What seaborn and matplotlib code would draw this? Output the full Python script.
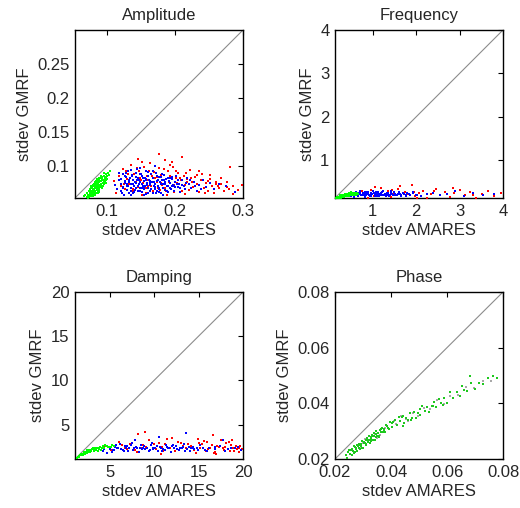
import matplotlib
matplotlib.use("Agg")
import matplotlib.pyplot as plt
import seaborn as sns
import pandas as pd

# ---------------- data ----------------
titles = ["Amplitude", "Frequency", "Damping", "Phase"]
x_label = "stdev AMARES"
y_label = "stdev GMRF"

amp_lim = (0.053, 0.3)
amp_xticks = [0.1, 0.2, 0.3]
amp_xticklabels = ["0.1", "0.2", "0.3"]
amp_yticks = [0.1, 0.15, 0.2, 0.25]
amp_yticklabels = ["0.1", "0.15", "0.2", "0.25"]

amp_green_x = [0.066,0.068,0.070,0.071,0.072,0.073,0.074,0.075,0.075,0.076,0.077,0.078,0.078,0.079,0.080,0.080,0.081,0.081,0.082,0.082,0.083,0.083,0.084,0.084,0.085,0.085,0.086,0.086,0.087,0.087,0.088,0.088,0.089,0.089,0.090,0.090,0.091,0.091,0.092,0.093,0.093,0.094,0.095,0.095,0.096,0.097,0.098,0.099,0.100,0.101,0.103,0.105,0.079,0.083,0.087,0.091,0.085,0.081,0.077,0.089,
               0.070,0.073,0.076,0.078,0.080,0.082,0.084,0.086,0.088,0.090,0.092,0.094,0.096,0.098,0.100,0.074,0.079,0.083,0.087,0.091,0.095,0.099,0.072,0.081,0.089,0.093,0.097,0.086,0.084,0.076]
amp_green_y = [0.056,0.058,0.055,0.061,0.058,0.063,0.057,0.061,0.066,0.059,0.064,0.060,0.068,0.063,0.066,0.059,0.070,0.062,0.067,0.073,0.064,0.070,0.075,0.061,0.068,0.072,0.065,0.077,0.070,0.074,0.067,0.079,0.072,0.076,0.069,0.082,0.074,0.078,0.071,0.080,0.084,0.075,0.078,0.086,0.073,0.082,0.088,0.079,0.085,0.090,0.087,0.092,0.071,0.058,0.063,0.086,0.080,0.074,0.056,0.065,
               0.060,0.054,0.067,0.057,0.072,0.060,0.067,0.081,0.062,0.078,0.083,0.070,0.080,0.075,0.081,0.064,0.056,0.077,0.060,0.070,0.090,0.084,0.053,0.065,0.083,0.067,0.077,0.071,0.078,0.070]

amp_blue_x = [0.112,0.115,0.118,0.120,0.121,0.123,0.124,0.125,0.127,0.128,0.129,0.130,0.131,0.132,0.133,0.134,0.135,0.136,0.137,0.138,0.139,0.140,0.141,0.142,0.143,0.144,0.145,0.146,0.147,0.148,0.149,0.150,0.151,0.152,0.153,0.154,0.155,0.156,0.157,0.158,0.159,0.160,0.161,0.162,0.163,0.164,0.165,0.166,0.167,0.168,0.169,0.170,0.171,0.172,0.173,0.174,0.175,0.176,0.177,0.178,0.180,0.181,0.182,0.184,0.185,0.186,0.188,0.189,0.190,0.192,0.193,0.195,0.197,0.198,0.200,0.202,0.204,0.206,0.208,0.210,0.213,0.215,0.218,0.221,0.224,0.228,0.232,0.236,0.241,0.246,0.252,0.258,0.265,0.275,0.288,0.135,0.148,0.170,0.155,0.183,
              0.121,0.124,0.126,0.128,0.131,0.133,0.135,0.137,0.139,0.141,0.143,0.145,0.147,0.149,0.151,0.153,0.155,0.157,0.159,0.161,0.163,0.165,0.167,0.169,0.171,0.173,0.175,0.177,0.179,0.181,0.183,0.185,0.187,0.189,0.191,0.194,0.196,0.199,0.203,0.207,
              0.122,0.127,0.132,0.136,0.140,0.144,0.148,0.152,0.156,0.160,0.164,0.168,0.172,0.176,0.180,0.184,0.188,0.192,0.196,0.200,0.205,0.210,0.216,0.222,0.230,0.238,0.118,0.129,0.142,0.157]
amp_blue_y = [0.072,0.066,0.080,0.063,0.074,0.088,0.069,0.058,0.078,0.084,0.065,0.071,0.092,0.061,0.076,0.082,0.068,0.073,0.087,0.060,0.079,0.070,0.065,0.084,0.075,0.096,0.063,0.071,0.080,0.068,0.077,0.089,0.062,0.073,0.083,0.066,0.078,0.071,0.093,0.059,0.075,0.085,0.068,0.079,0.064,0.072,0.088,0.076,0.061,0.082,0.070,0.074,0.066,0.090,0.078,0.063,0.071,0.084,0.068,0.076,0.060,0.080,0.073,0.087,0.065,0.077,0.070,0.083,0.062,0.075,0.068,0.081,0.072,0.064,0.077,0.086,0.069,0.074,0.062,0.079,0.071,0.066,0.083,0.073,0.068,0.077,0.064,0.072,0.080,0.069,0.075,0.066,0.073,0.070,0.062,0.057,0.097,0.100,0.057,0.058,
              0.081,0.067,0.075,0.090,0.070,0.079,0.064,0.085,0.073,0.077,0.068,0.082,0.074,0.063,0.086,0.070,0.067,0.080,0.072,0.091,0.075,0.066,0.083,0.077,0.069,0.086,0.080,0.062,0.073,0.088,0.067,0.074,0.081,0.071,0.078,0.066,0.084,0.070,0.073,0.067,
              0.060,0.086,0.077,0.094,0.062,0.079,0.088,0.068,0.083,0.061,0.078,0.092,0.061,0.066,0.084,0.079,0.063,0.082,0.071,0.069,0.080,0.072,0.075,0.079,0.070,0.066,0.090,0.074,0.090,0.081]

amp_red_x = [0.110,0.114,0.117,0.120,0.123,0.126,0.129,0.132,0.135,0.137,0.140,0.142,0.145,0.147,0.149,0.151,0.153,0.155,0.157,0.159,0.161,0.163,0.165,0.167,0.169,0.171,0.173,0.175,0.177,0.179,0.181,0.183,0.185,0.187,0.189,0.191,0.193,0.195,0.197,0.199,0.201,0.203,0.205,0.207,0.209,0.211,0.213,0.215,0.218,0.220,0.222,0.225,0.227,0.230,0.232,0.235,0.238,0.240,0.243,0.246,0.249,0.252,0.255,0.258,0.261,0.264,0.268,0.272,0.276,0.281,0.286,0.292,0.298,0.146,0.176,0.196,0.128,0.158,0.188,0.214,
             0.125,0.131,0.138,0.144,0.150,0.156,0.162,0.168,0.174,0.180,0.186,0.192,0.198,0.204,0.210,0.216,0.223,0.229,0.236,0.244,0.252,0.260,0.268,0.277,0.285,0.140,0.152,0.166,0.178,0.190,0.202,0.217,0.233,0.248,0.263,0.279,0.134,0.160,0.184,0.208]
amp_red_y = [0.078,0.061,0.086,0.070,0.095,0.066,0.081,0.074,0.101,0.063,0.088,0.077,0.069,0.093,0.082,0.058,0.075,0.098,0.067,0.086,0.079,0.104,0.071,0.063,0.091,0.083,0.076,0.068,0.097,0.087,0.072,0.080,0.109,0.064,0.093,0.077,0.085,0.070,0.099,0.062,0.082,0.075,0.090,0.067,0.079,0.114,0.086,0.072,0.081,0.065,0.094,0.076,0.069,0.084,0.073,0.062,0.079,0.088,0.068,0.075,0.064,0.081,0.070,0.061,0.077,0.067,0.073,0.063,0.069,0.098,0.071,0.065,0.072,0.110,0.117,0.106,0.092,0.060,0.058,0.059,
             0.073,0.088,0.066,0.097,0.079,0.071,0.092,0.060,0.084,0.075,0.068,0.101,0.072,0.080,0.063,0.090,0.082,0.071,0.093,0.061,0.087,0.074,0.083,0.076,0.059,0.064,0.106,0.086,0.065,0.083,0.092,0.076,0.087,0.078,0.071,0.066,0.083,0.071,0.095,0.083]

freq_lim = (0.13, 4.0)
freq_ticks = [1, 2, 3, 4]
freq_ticklabels = ["1", "2", "3", "4"]

freq_green_x = [0.16,0.18,0.19,0.20,0.21,0.22,0.23,0.24,0.25,0.26,0.27,0.28,0.29,0.30,0.31,0.32,0.33,0.34,0.35,0.36,0.37,0.38,0.39,0.40,0.41,0.42,0.44,0.45,0.47,0.48,0.50,0.52,0.54,0.56,0.58,0.61,0.64,0.67,0.25,0.30,0.35,0.40,0.45,0.50,0.55,
                0.18,0.22,0.26,0.30,0.34,0.38,0.42,0.46,0.50,0.54,0.58,0.62,0.21,0.27,0.33,0.39,0.45,0.51,0.57,0.63]
freq_green_y = [0.13,0.14,0.13,0.15,0.14,0.16,0.15,0.17,0.16,0.18,0.16,0.19,0.17,0.20,0.18,0.19,0.21,0.18,0.20,0.22,0.19,0.21,0.23,0.20,0.22,0.19,0.23,0.21,0.24,0.22,0.20,0.24,0.22,0.25,0.21,0.23,0.24,0.22,0.19,0.15,0.23,0.17,0.18,0.26,0.19,
                0.15,0.13,0.17,0.18,0.19,0.17,0.21,0.20,0.22,0.20,0.24,0.21,0.16,0.14,0.16,0.20,0.24,0.21,0.23,0.25]

freq_blue_x = [0.45,0.50,0.55,0.58,0.62,0.65,0.68,0.71,0.74,0.77,0.80,0.83,0.86,0.89,0.92,0.95,0.98,1.01,1.04,1.07,1.10,1.13,1.16,1.19,1.22,1.25,1.28,1.31,1.35,1.39,1.43,1.47,1.51,1.56,1.61,1.66,1.72,1.78,1.85,1.93,2.02,2.12,2.24,2.38,2.55,2.72,2.90,3.10,3.30,3.55,3.80,0.60,0.72,0.85,0.97,1.08,1.20,1.33,1.45,0.78,0.93,1.15,1.38,
               0.52,0.57,0.61,0.66,0.70,0.75,0.79,0.84,0.88,0.93,0.97,1.02,1.06,1.11,1.15,1.20,1.24,1.29,1.33,1.38,1.42,1.47,1.52,1.58,1.64,1.70,1.77,1.84,1.92,2.00,0.56,0.67,0.81,0.95,1.09,1.23,1.36,1.50,1.63,1.76]
freq_blue_y = [0.21,0.18,0.24,0.20,0.26,0.17,0.22,0.28,0.19,0.24,0.21,0.16,0.27,0.23,0.19,0.25,0.22,0.30,0.18,0.24,0.21,0.27,0.19,0.23,0.26,0.20,0.22,0.17,0.25,0.21,0.28,0.19,0.23,0.20,0.26,0.18,0.22,0.24,0.19,0.27,0.21,0.17,0.23,0.25,0.19,0.22,0.30,0.18,0.24,0.20,0.23,0.23,0.20,0.22,0.19,0.26,0.21,0.24,0.22,0.25,0.17,0.23,0.20,
               0.19,0.23,0.21,0.18,0.25,0.20,0.23,0.19,0.26,0.21,0.18,0.24,0.20,0.22,0.17,0.25,0.19,0.23,0.21,0.18,0.24,0.21,0.19,0.23,0.20,0.25,0.18,0.22,0.24,0.20,0.16,0.25,0.27,0.23,0.18,0.28,0.20,0.26,0.22,0.19]

freq_red_x = [0.55,0.65,0.75,0.85,0.95,1.02,1.10,1.18,1.26,1.34,1.42,1.50,1.58,1.66,1.74,1.82,1.90,1.98,2.07,2.16,2.25,2.35,2.45,2.55,2.66,2.77,2.88,3.00,3.12,3.25,3.38,3.52,3.66,3.80,3.95,1.05,1.30,1.62,2.03,2.40,2.85,3.30,0.90,1.45,1.95]
freq_red_y = [0.25,0.19,0.29,0.22,0.32,0.17,0.26,0.36,0.21,0.28,0.15,0.24,0.33,0.19,0.27,0.22,0.44,0.18,0.25,0.30,0.14,0.23,0.34,0.20,0.27,0.16,0.24,0.31,0.19,0.26,0.13,0.22,0.28,0.18,0.24,0.38,0.19,0.40,0.12,0.29,0.35,0.21,0.14,0.31,0.26]

damp_lim = (1.1, 20.0)
damp_ticks = [5, 10, 15, 20]
damp_ticklabels = ["5", "10", "15", "20"]

damp_green_x = [1.3,1.5,1.7,1.8,2.0,2.1,2.3,2.4,2.6,2.7,2.9,3.0,3.2,3.3,3.5,3.6,3.8,3.9,4.1,4.2,4.4,4.6,4.8,5.0,5.3,2.2,2.8,3.4,4.0,4.5,1.9,2.5,3.1,3.7,
                1.6,2.0,2.3,2.6,2.9,3.2,3.5,3.8,4.1,4.4,4.7,5.1,5.5,1.4,2.7]
damp_green_y = [1.2,1.4,1.5,1.65,1.7,1.85,1.9,1.8,2.05,2.0,2.15,2.2,2.05,2.3,2.25,2.4,2.2,2.45,2.35,2.55,2.4,2.6,2.5,2.45,2.65,1.7,1.85,2.35,2.1,2.7,1.55,2.15,2.4,1.95,
                1.35,1.55,1.75,1.85,2.0,2.2,2.15,2.35,2.4,2.35,2.55,2.5,2.6,1.3,2.1]

damp_blue_x = [3.8,4.2,4.6,5.0,5.3,5.6,5.9,6.2,6.5,6.8,7.1,7.4,7.7,8.0,8.3,8.6,8.9,9.2,9.5,9.8,10.1,10.4,10.7,11.0,11.3,11.6,11.9,12.2,12.5,12.8,13.1,13.4,13.7,14.0,14.4,14.8,15.2,15.7,16.2,16.8,17.4,18.0,18.7,19.4,5.5,6.9,8.4,9.9,11.4,12.9,14.5,7.8,10.5,13.6,17.8,
               4.4,4.9,5.4,5.8,6.3,6.7,7.2,7.6,8.1,8.5,9.0,9.4,9.9,10.3,10.8,11.2,11.7,12.1,12.6,13.0,13.5,13.9,14.4,14.9,15.5,4.7,5.7,6.6,7.5,8.8,9.7,10.9,12.0,13.2,14.2,15.9,16.9,18.3,19.1,19.8]
damp_blue_y = [2.3,2.0,2.6,2.2,1.9,2.5,2.3,2.8,2.1,2.4,2.0,2.7,2.3,2.5,1.9,2.2,2.6,2.4,2.1,2.9,2.3,2.0,2.5,2.2,2.7,2.4,1.9,2.3,2.6,2.1,2.4,2.8,2.2,2.0,2.5,2.3,2.7,2.1,2.4,2.2,2.6,2.0,2.3,2.5,2.1,2.6,2.3,2.2,2.5,2.3,2.2,3.2,3.6,4.0,3.3,
               2.2,2.5,2.1,2.4,2.2,2.6,2.3,2.1,2.4,2.7,2.2,2.0,2.4,2.6,2.3,2.1,2.4,2.7,2.2,2.4,2.0,2.5,2.3,2.1,2.4,1.8,2.7,2.0,2.9,2.3,2.7,2.0,2.6,2.5,2.3,2.0,2.5,2.2,2.4,2.1]

damp_red_x = [4.5,5.2,6.0,6.7,7.3,8.1,8.8,9.4,10.2,10.9,11.5,12.3,13.0,13.6,14.2,14.7,15.2,15.6,16.1,16.5,16.9,17.3,17.7,18.1,18.5,18.9,19.3,19.7,9.0,12.0,15.0,17.0,19.0,11.2,16.6,18.4,10.8,14.9,8.2,
              5.0,6.4,7.8,9.1,10.5,11.8,13.3,14.5,15.4,16.3,17.1,17.9,18.7,19.5,12.7,15.8,17.5,19.2,8.5,11.0,13.8,16.0,18.0,19.9,6.9,10.0,14.1,16.7,18.8,19.6]
damp_red_y = [2.6,2.1,3.0,2.4,2.8,1.9,2.7,3.2,2.2,2.5,3.4,2.0,2.9,2.3,2.6,1.8,2.4,3.1,2.2,2.7,1.9,2.5,2.3,2.9,2.0,2.4,2.2,2.6,4.1,3.5,2.9,1.7,2.0,2.8,3.8,3.0,1.7,3.4,3.9,
              2.3,2.7,2.1,2.5,2.9,2.3,2.6,2.1,2.8,2.3,2.6,2.1,2.7,2.3,3.0,2.0,3.2,2.6,2.4,2.0,2.8,3.0,2.5,2.2,2.2,2.8,2.4,1.8,3.3,1.9]

phase_lim = (0.02, 0.08)
phase_ticks = [0.02, 0.04, 0.06, 0.08]
phase_ticklabels = ["0.02", "0.04", "0.06", "0.08"]

phase_green_x = [0.0238,0.0244,0.0249,0.0253,0.0257,0.0261,0.0264,0.0267,0.0270,0.0273,0.0276,0.0279,0.0282,0.0285,0.0288,0.0291,0.0294,0.0297,0.0300,0.0303,0.0306,0.0309,0.0312,0.0315,0.0318,0.0321,0.0324,0.0327,0.0330,0.0333,0.0336,0.0339,0.0342,0.0345,0.0348,0.0351,0.0354,0.0357,0.0360,0.0364,0.0368,0.0372,0.0376,0.0380,0.0385,0.0390,0.0396,0.0402,0.0408,
                 0.0246,0.0255,0.0262,0.0269,0.0274,0.0280,0.0286,0.0292,0.0298,0.0304,0.0310,0.0316,0.0322,0.0328,0.0334,0.0340,0.0346,0.0352,0.0358,0.0366,0.0374,0.0383,0.0393,0.0405,
                 0.0414,0.0420,0.0427,0.0433,0.0440,0.0447,0.0453,0.0460,0.0467,0.0474,0.0481,0.0489,0.0496,0.0504,0.0512,0.0520,0.0528,0.0537,0.0545,0.0553,0.0562,0.0571,0.0580,0.0590,0.0600,0.0611,0.0622,0.0634,0.0646,0.0659,0.0672,0.0686,0.0700,0.0715,0.0730,0.0748,0.0766,0.0682,0.0778,
                 0.0443,0.0443,0.0550,0.0505,0.0585,0.0655,0.0470]
phase_green_y = [0.0215,0.0205,0.0231,0.0218,0.0231,0.0213,0.0230,0.0246,0.0226,0.0244,0.0235,0.0227,0.0246,0.0254,0.0236,0.0249,0.0245,0.0265,0.0239,0.0262,0.0257,0.0270,0.0251,0.0267,0.0260,0.0282,0.0257,0.0280,0.0272,0.0288,0.0270,0.0282,0.0269,0.0291,0.0302,0.0283,0.0295,0.0282,0.0304,0.0296,0.0313,0.0296,0.0309,0.0296,0.0320,0.0312,0.0333,0.0315,0.0333,
                 0.0225,0.0217,0.0237,0.0221,0.0238,0.0252,0.0240,0.0255,0.0240,0.0257,0.0254,0.0276,0.0268,0.0263,0.0282,0.0295,0.0278,0.0293,0.0279,0.0306,0.0300,0.0321,0.0306,0.0329,
                 0.0339,0.0322,0.0352,0.0335,0.0352,0.0329,0.0349,0.0341,0.0367,0.0348,0.0368,0.0348,0.0366,0.0359,0.0389,0.0371,0.0388,0.0368,0.0392,0.0404,0.0386,0.0416,0.0402,0.0419,0.0401,0.0439,0.0420,0.0442,0.0426,0.0449,0.0443,0.0472,0.0453,0.0474,0.0469,0.0492,0.0498,0.0498,0.0492,
                 0.0320,0.0355,0.0392,0.0381,0.0395,0.0462,0.0340]

phase_gray_x = [0.0272,0.0290,0.0307,0.0325,0.0342,0.0361,0.0378,0.0397,0.0418,0.0436,0.0455,0.0477,0.0498,0.0517,0.0541,0.0563,0.0588,0.0612,0.0640,0.0668,0.0697,0.0727,0.0757,0.0300,0.0350,0.0410,0.0460]
phase_gray_y = [0.0243,0.0238,0.0271,0.0269,0.0290,0.0285,0.0312,0.0333,0.0324,0.0354,0.0343,0.0365,0.0353,0.0382,0.0378,0.0412,0.0399,0.0427,0.0431,0.0460,0.0456,0.0481,0.0479,0.0258,0.0276,0.0336,0.0337]

# ---------------- style ----------------
sns.set_style("white")
plt.rcParams["font.family"] = ["Liberation Sans", "DejaVu Sans"]
plt.rcParams["font.size"] = 12

RED, BLUE, GREEN = "#ff0000", "#0000ff", "#00ff00"
PGREEN, PGRAY = "#1ec81e", "#a8a8a8"

fig = plt.figure(figsize=(5.2, 5.08), dpi=100)
W, H = 520, 508


def make_ax(l, t, r, b):
    return fig.add_axes([l / W, 1 - b / H, (r - l) / W, (b - t) / H])


axes = [make_ax(75, 30, 243, 198), make_ax(335, 30, 503, 198),
        make_ax(75, 292, 243, 459), make_ax(335, 292, 503, 459)]

panels = [
    (amp_lim, amp_xticks, amp_xticklabels, amp_yticks, amp_yticklabels,
     [(amp_red_x, amp_red_y, RED), (amp_blue_x, amp_blue_y, BLUE), (amp_green_x, amp_green_y, GREEN)]),
    (freq_lim, freq_ticks, freq_ticklabels, freq_ticks, freq_ticklabels,
     [(freq_red_x, freq_red_y, RED), (freq_blue_x, freq_blue_y, BLUE), (freq_green_x, freq_green_y, GREEN)]),
    (damp_lim, damp_ticks, damp_ticklabels, damp_ticks, damp_ticklabels,
     [(damp_red_x, damp_red_y, RED), (damp_blue_x, damp_blue_y, BLUE), (damp_green_x, damp_green_y, GREEN)]),
    (phase_lim, phase_ticks, phase_ticklabels, phase_ticks, phase_ticklabels,
     [(phase_gray_x, phase_gray_y, PGRAY), (phase_green_x, phase_green_y, PGREEN)]),
]

for ax, title, (lim, xt, xtl, yt, ytl, series) in zip(axes, titles, panels):
    for xs, ys, col in series:
        df = pd.DataFrame({"x": xs, "y": ys})
        sns.scatterplot(data=df, x="x", y="y", color=col, marker="s", s=4,
                        linewidth=0, ax=ax, zorder=3)
    ax.axline((lim[0], lim[0]), slope=1, color="#8c8c8c", lw=0.8, zorder=2)
    ax.set_xlim(lim)
    ax.set_ylim(lim)
    ax.set_xticks(xt)
    ax.set_xticklabels(xtl)
    ax.set_yticks(yt)
    ax.set_yticklabels(ytl)
    ax.set_title(title, fontsize=12, pad=7)
    ax.set_xlabel(x_label, fontsize=12, labelpad=3)
    ax.set_ylabel(y_label, fontsize=12, labelpad=4)
    ax.tick_params(direction="in", length=3.5, width=0.8, top=True, right=True,
                   labelsize=12, pad=4, color="black")
    for sp in ax.spines.values():
        sp.set_visible(True)
        sp.set_color("black")
        sp.set_linewidth(1.0)

fig.savefig("out.png", dpi=100, facecolor="white")
